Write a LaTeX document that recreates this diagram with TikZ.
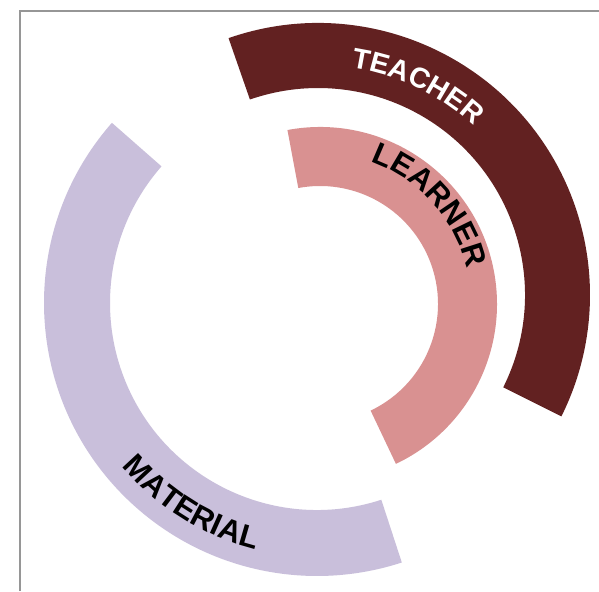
\documentclass[tikz,border=0pt]{standalone}
\usepackage{fontspec}
\setmainfont{Liberation Sans}
\usetikzlibrary{calc,decorations.text}
\definecolor{teachercol}{RGB}{98,33,33}
\definecolor{learnercol}{RGB}{217,145,145}
\definecolor{materialcol}{RGB}{201,191,219}
\definecolor{framecol}{RGB}{150,150,150}
\newcommand{\lblfont}{\fontsize{28.5pt}{28.5pt}\selectfont\bfseries}
\newcommand{\lblfontb}{\fontsize{31pt}{31pt}\selectfont\bfseries}
\tikzset{
  arclabel/.style={decorate, decoration={text along path, text align=center, text={|\lblfont|#1}}},
  arclabelb/.style={decorate, decoration={text along path, text align=center, text={|\lblfontb|#1}}},
}
\begin{document}
\begin{tikzpicture}[x=1pt,y=1pt]
\useasboundingbox (0,0) rectangle (599,591);
\fill[white] (0,0) rectangle (599,591);
\draw[framecol, line width=2pt] (20,0) -- (20,580) -- (599,580);
\coordinate (ct) at (318,296);
\coordinate (cl) at (320,287);
\coordinate (cm) at (317,288);
% teacher
\fill[teachercol] ($(ct)+(109.2:272pt)$) arc[start angle=109.2,end angle=-26.5,radius=272pt]
  -- ($(ct)+(-26.5:207pt)$) arc[start angle=-26.5,end angle=109.2,radius=207pt] -- cycle;
% learner
\fill[learnercol] ($(cl)+(100.6:177pt)$) arc[start angle=100.6,end angle=-64.6,radius=177pt]
  -- ($(cl)+(-64.6:118pt)$) arc[start angle=-64.6,end angle=100.6,radius=118pt] -- cycle;
% material
\fill[materialcol] ($(cm)+(138.7:273pt)$) arc[start angle=138.7,end angle=288.1,radius=273pt]
  -- ($(cm)+(288.1:207pt)$) arc[start angle=288.1,end angle=138.7,radius=207pt] -- cycle;
% labels
\path[arclabel={TEACHER}, decoration={text color=white}] ($(ct)+(98.5:230pt)$) arc[start angle=98.5,end angle=30.5,radius=230pt];
\path[arclabelb={LEARNER}] ($(cl)+(88:151pt)$) arc[start angle=88,end angle=-4,radius=151pt];
\path[arclabelb={MATERIAL}] ($(cm)+(199:254pt)$) arc[start angle=199,end angle=277,radius=254pt];
\end{tikzpicture}
\end{document}
